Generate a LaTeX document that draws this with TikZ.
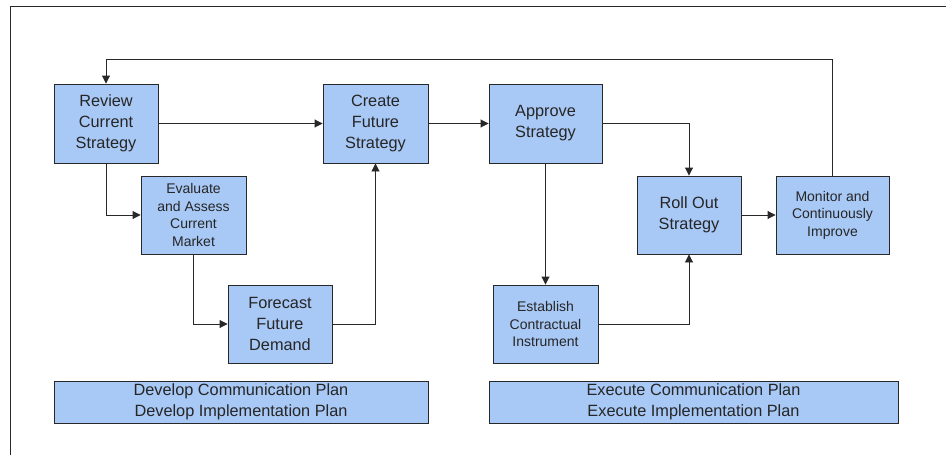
\documentclass[tikz,border=0pt]{standalone}
\usepackage{fontspec}
\setmainfont{Liberation Sans}
\usetikzlibrary{arrows.meta}
\definecolor{boxblue}{RGB}{168,200,245}
\definecolor{edge}{RGB}{40,40,40}
\tikzset{
  stepbox/.style={draw=edge, fill=boxblue, line width=0.9pt, align=center,
    text=black!85, font=\fontsize{16.3}{21}\selectfont, inner sep=2pt},
  smallbox/.style={stepbox, font=\fontsize{14}{17.5}\selectfont},
  planbox/.style={stepbox, minimum height=42pt},
  arr/.style={draw=edge, line width=0.9pt, -{Triangle[length=8pt,width=8pt]}}
}
\begin{document}
\begin{tikzpicture}[x=1pt, y=-1pt]
    \useasboundingbox (0,0) rectangle (946,455);
    % frame
    \draw[edge, line width=0.9pt] (946,6) -- (10,6) -- (10,455);
    % top row
    \node[stepbox, minimum width=104pt, minimum height=79pt] (review) at (106,123.5) {Review\\Current\\Strategy};
    \node[stepbox, minimum width=105pt, minimum height=79pt] (create) at (375.5,123.5) {Create\\Future\\Strategy};
    \node[stepbox, minimum width=113pt, minimum height=79pt] (approve) at (545.5,123.5) {Approve\\Strategy};
    % middle row
    \node[smallbox, minimum width=105pt, minimum height=78pt] (evaluate) at (193.5,215) {Evaluate\\and Assess\\Current\\Market};
    \node[stepbox, minimum width=104pt, minimum height=78pt] (rollout) at (689,215) {Roll Out\\Strategy};
    \node[smallbox, minimum width=113pt, minimum height=78pt] (monitor) at (832.5,215) {Monitor and\\Continuously\\Improve};
    % bottom row
    \node[stepbox, minimum width=104pt, minimum height=78pt] (forecast) at (280,324) {Forecast\\Future\\Demand};
    \node[smallbox, minimum width=105pt, minimum height=78pt] (establish) at (545.5,324) {Establish\\Contractual\\Instrument};
    % plans
    \node[planbox, minimum width=374pt] (devplan) at (241,402) {Develop Communication Plan\\Develop Implementation Plan};
    \node[planbox, minimum width=409pt] (exeplan) at (693.5,402) {Execute Communication Plan\\Execute Implementation Plan};
    % connectors
    \coordinate (loop) at (106,59);
    \draw[arr] (review) -- (create);
    \draw[arr] (review.south) |- (evaluate.west);
    \draw[arr] (evaluate.south) |- (forecast.west);
    \draw[arr] (forecast.east) -| (create.south);
    \draw[arr] (create) -- (approve);
    \draw[arr] (approve.east) -| (rollout.north);
    \draw[arr] (approve.south) -- (establish.north);
    \draw[arr] (establish.east) -| (rollout.south);
    \draw[arr] (rollout) -- (monitor);
    \draw[arr] (monitor.north) |- (loop) -- (review.north);
\end{tikzpicture}
\end{document}
